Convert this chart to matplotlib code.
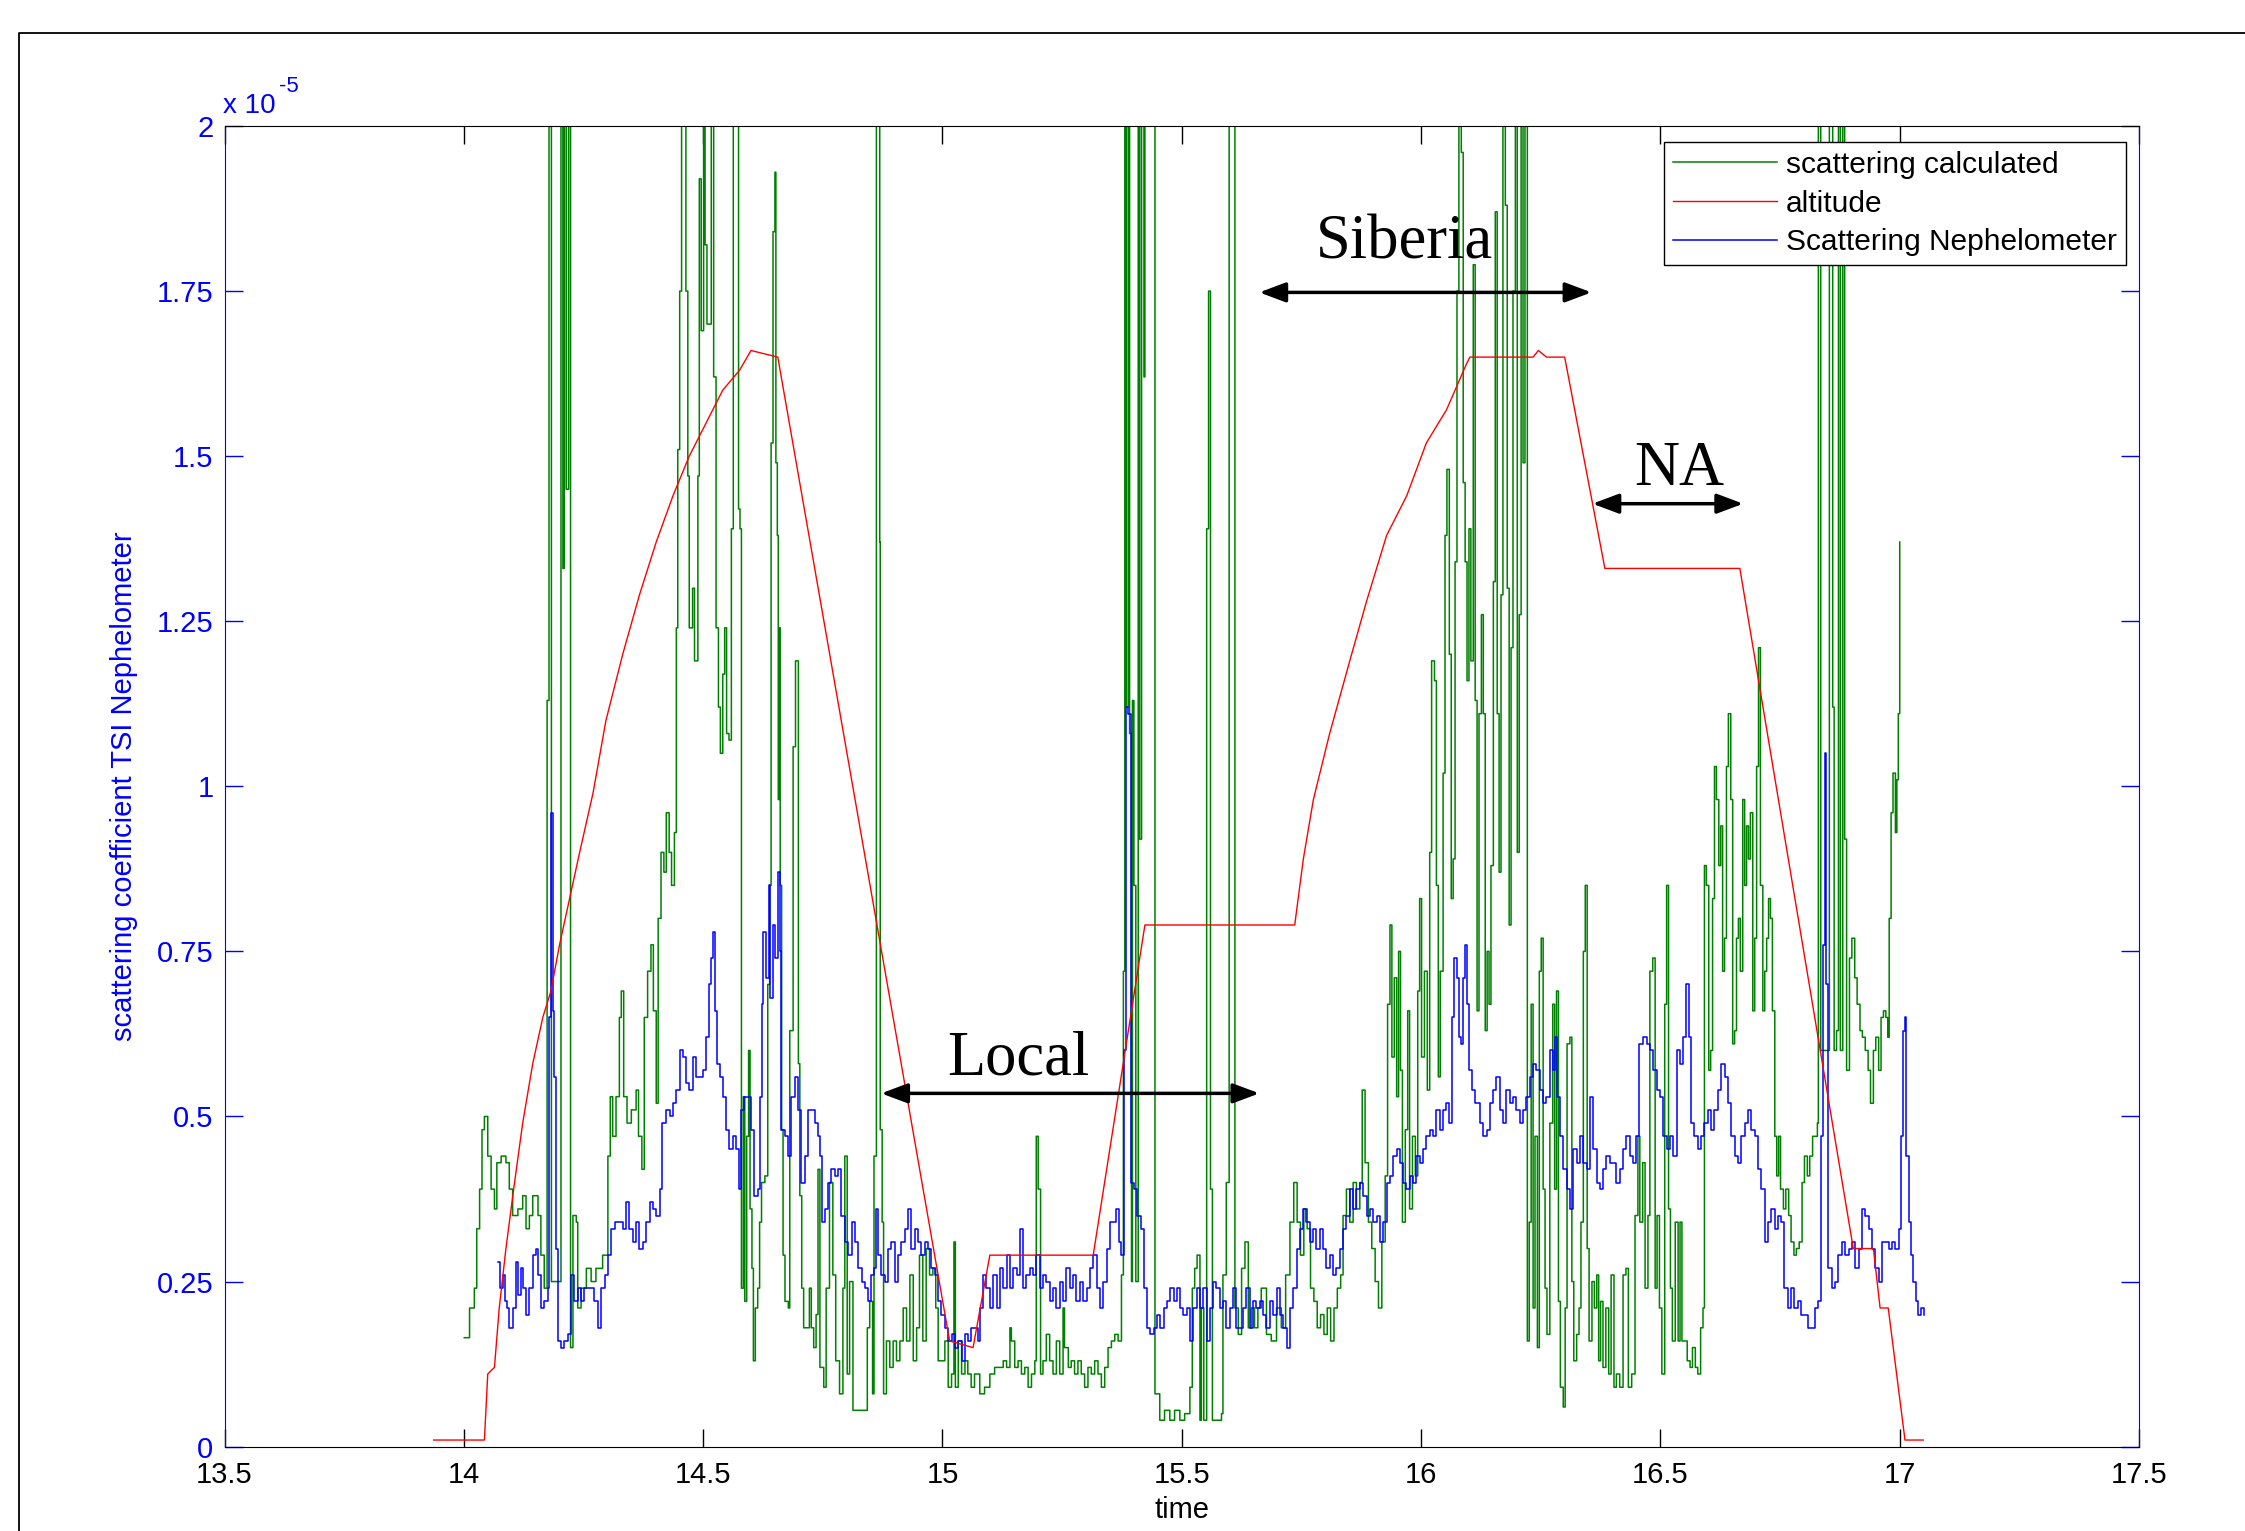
import matplotlib
matplotlib.use('Agg')
import matplotlib.pyplot as plt
from matplotlib.lines import Line2D

# values in units of 1e-5
green_t = [
    14.001, 14.012, 14.022, 14.027, 14.033, 14.038, 14.043, 14.050, 14.057, 14.064,
    14.069, 14.078, 14.088, 14.095, 14.102, 14.113, 14.123, 14.130, 14.137, 14.144,
    14.155, 14.161, 14.168, 14.174, 14.178, 14.183, 14.203, 14.207, 14.210, 14.214,
    14.219, 14.223, 14.228, 14.235, 14.238, 14.245, 14.256, 14.266, 14.276, 14.290,
    14.301, 14.306, 14.311, 14.318, 14.325, 14.329, 14.334, 14.341, 14.350, 14.360,
    14.365, 14.372, 14.377, 14.384, 14.391, 14.396, 14.402, 14.406, 14.412, 14.418,
    14.423, 14.429, 14.434, 14.440, 14.444, 14.447, 14.451, 14.455, 14.464, 14.468,
    14.471, 14.478, 14.482, 14.489, 14.492, 14.496, 14.501, 14.504, 14.508, 14.517,
    14.522, 14.527, 14.532, 14.536, 14.541, 14.545, 14.549, 14.554, 14.559, 14.563,
    14.574, 14.577, 14.580, 14.584, 14.587, 14.591, 14.595, 14.598, 14.602, 14.605,
    14.609, 14.614, 14.618, 14.622, 14.629, 14.635, 14.639, 14.642, 14.646, 14.650,
    14.652, 14.655, 14.657, 14.659, 14.661, 14.664, 14.667, 14.671, 14.678, 14.681,
    14.685, 14.688, 14.693, 14.696, 14.699, 14.702, 14.706, 14.710, 14.717, 14.722,
    14.726, 14.731, 14.736, 14.740, 14.744, 14.752, 14.757, 14.764, 14.771, 14.777,
    14.785, 14.792, 14.796, 14.801, 14.806, 14.813, 14.838, 14.843, 14.848, 14.854,
    14.857, 14.862, 14.869, 14.870, 14.874, 14.877, 14.883, 14.890, 14.897, 14.904,
    14.911, 14.918, 14.925, 14.932, 14.939, 14.946, 14.952, 14.959, 14.966, 14.973,
    14.980, 14.986, 14.991, 15.005, 15.012, 15.019, 15.024, 15.027, 15.033, 15.040,
    15.047, 15.053, 15.060, 15.067, 15.078, 15.088, 15.099, 15.109, 15.127, 15.134,
    15.141, 15.144, 15.151, 15.158, 15.165, 15.172, 15.179, 15.186, 15.193, 15.196,
    15.200, 15.205, 15.210, 15.217, 15.224, 15.231, 15.238, 15.245, 15.252, 15.255,
    15.263, 15.269, 15.276, 15.283, 15.290, 15.297, 15.304, 15.311, 15.318, 15.325,
    15.332, 15.339, 15.346, 15.353, 15.360, 15.367, 15.374, 15.378, 15.381, 15.384,
    15.388, 15.391, 15.395, 15.397, 15.400, 15.404, 15.409, 15.412, 15.416, 15.421,
    15.423, 15.444, 15.454, 15.464, 15.475, 15.485, 15.496, 15.506, 15.517, 15.522,
    15.527, 15.532, 15.538, 15.541, 15.546, 15.552, 15.556, 15.560, 15.564, 15.583,
    15.586, 15.593, 15.599, 15.611, 15.618, 15.625, 15.632, 15.639, 15.645, 15.652,
    15.659, 15.666, 15.677, 15.687, 15.698, 15.708, 15.717, 15.726, 15.734, 15.741,
    15.748, 15.755, 15.762, 15.769, 15.776, 15.783, 15.790, 15.797, 15.804, 15.811,
    15.818, 15.825, 15.832, 15.837, 15.844, 15.851, 15.858, 15.865, 15.872, 15.877,
    15.883, 15.890, 15.897, 15.904, 15.911, 15.918, 15.925, 15.930, 15.935, 15.939,
    15.944, 15.949, 15.953, 15.957, 15.961, 15.967, 15.972, 15.976, 15.982, 15.988,
    15.993, 15.997, 16.001, 16.007, 16.013, 16.018, 16.022, 16.028, 16.032, 16.036,
    16.040, 16.046, 16.050, 16.054, 16.059, 16.063, 16.067, 16.071, 16.075, 16.079,
    16.084, 16.088, 16.092, 16.096, 16.100, 16.104, 16.109, 16.113, 16.117, 16.121,
    16.126, 16.130, 16.134, 16.138, 16.142, 16.146, 16.151, 16.155, 16.159, 16.163,
    16.167, 16.171, 16.176, 16.180, 16.184, 16.188, 16.192, 16.197, 16.201, 16.205,
    16.209, 16.213, 16.217, 16.222, 16.226, 16.230, 16.234, 16.238, 16.243, 16.247,
    16.251, 16.255, 16.259, 16.263, 16.269, 16.275, 16.279, 16.283, 16.287, 16.291,
    16.297, 16.301, 16.305, 16.311, 16.315, 16.319, 16.325, 16.330, 16.334, 16.339,
    16.343, 16.347, 16.351, 16.357, 16.362, 16.367, 16.371, 16.375, 16.380, 16.386,
    16.392, 16.397, 16.403, 16.408, 16.415, 16.422, 16.428, 16.433, 16.440, 16.447,
    16.453, 16.457, 16.463, 16.468, 16.474, 16.478, 16.484, 16.489, 16.493, 16.498,
    16.503, 16.509, 16.513, 16.517, 16.521, 16.525, 16.531, 16.537, 16.541, 16.545,
    16.550, 16.556, 16.562, 16.567, 16.573, 16.578, 16.584, 16.589, 16.592, 16.596,
    16.601, 16.605, 16.609, 16.613, 16.617, 16.622, 16.626, 16.630, 16.634, 16.638,
    16.642, 16.647, 16.651, 16.655, 16.659, 16.663, 16.667, 16.672, 16.676, 16.680,
    16.684, 16.688, 16.693, 16.697, 16.701, 16.705, 16.709, 16.714, 16.718, 16.722,
    16.726, 16.730, 16.734, 16.739, 16.743, 16.747, 16.751, 16.757, 16.762, 16.768,
    16.773, 16.779, 16.784, 16.790, 16.796, 16.801, 16.807, 16.812, 16.818, 16.824,
    16.828, 16.830, 16.835, 16.853, 16.860, 16.863, 16.868, 16.872, 16.876, 16.881,
    16.885, 16.889, 16.895, 16.900, 16.906, 16.911, 16.917, 16.922, 16.928, 16.934,
    16.939, 16.945, 16.950, 16.956, 16.961, 16.966, 16.971, 16.975, 16.978, 16.982,
    16.986, 16.991, 16.994, 16.997, 17.000,
]
green_v = [
    0.165, 0.21, 0.24, 0.33, 0.39, 0.48, 0.50, 0.44, 0.39, 0.36,
    0.43, 0.44, 0.43, 0.39, 0.35, 0.36, 0.38, 0.33, 0.35, 0.38,
    0.35, 0.29, 0.24, 1.13, 2.5, 0.25, 2.5, 1.33, 2.5, 1.45,
    2.5, 0.15, 0.35, 0.34, 0.21, 0.24, 0.27, 0.25, 0.27, 0.29,
    0.44, 0.53, 0.47, 0.53, 0.65, 0.69, 0.53, 0.49, 0.51, 0.54,
    0.47, 0.42, 0.65, 0.72, 0.76, 0.66, 0.52, 0.80, 0.90, 0.87,
    0.96, 0.90, 0.85, 0.93, 1.24, 1.51, 1.75, 2.5, 1.75, 1.47,
    1.24, 1.30, 1.19, 1.47, 1.92, 1.69, 2.5, 1.82, 1.70, 2.5,
    1.62, 1.24, 1.12, 1.05, 1.17, 1.24, 1.08, 1.07, 1.39, 2.5,
    1.42, 1.39, 0.24, 0.53, 0.22, 0.47, 0.60, 0.36, 0.27, 0.13,
    0.21, 0.24, 0.34, 0.40, 0.41, 0.70, 0.85, 1.52, 1.84, 1.93,
    1.49, 1.38, 0.98, 1.24, 0.85, 0.48, 0.29, 0.22, 0.21, 0.63,
    0.63, 1.06, 1.19, 1.19, 0.58, 0.38, 0.24, 0.18, 0.18, 0.24,
    0.18, 0.15, 0.20, 0.42, 0.12, 0.09, 0.24, 0.40, 0.26, 0.13,
    0.08, 0.24, 0.44, 0.11, 0.25, 0.055, 0.055, 0.18, 0.22, 0.08,
    0.44, 2.5, 1.37, 0.48, 0.34, 0.08, 0.16, 0.12, 0.16, 0.13,
    0.16, 0.21, 0.16, 0.26, 0.13, 0.18, 0.29, 0.16, 0.30, 0.26,
    0.27, 0.21, 0.13, 0.16, 0.09, 0.11, 0.31, 0.09, 0.16, 0.11,
    0.13, 0.11, 0.09, 0.11, 0.08, 0.09, 0.11, 0.12, 0.13, 0.12,
    0.18, 0.16, 0.12, 0.13, 0.11, 0.12, 0.09, 0.11, 0.13, 0.47,
    0.39, 0.11, 0.13, 0.17, 0.13, 0.11, 0.16, 0.11, 0.21, 0.15,
    0.12, 0.13, 0.11, 0.13, 0.11, 0.09, 0.12, 0.11, 0.13, 0.11,
    0.09, 0.12, 0.15, 0.16, 0.17, 0.16, 0.26, 0.72, 2.5, 1.12,
    2.5, 1.08, 0.25, 1.13, 0.85, 0.25, 2.5, 0.92, 2.5, 1.62,
    2.5, 0.08, 0.04, 0.055, 0.04, 0.055, 0.04, 0.05, 0.09, 0.24,
    0.27, 0.29, 0.04, 0.21, 0.04, 1.39, 1.75, 0.39, 0.04, 0.05,
    0.26, 0.40, 2.5, 0.21, 0.17, 0.27, 0.31, 0.18, 0.21, 0.18,
    0.21, 0.24, 0.17, 0.16, 0.21, 0.18, 0.26, 0.34, 0.40, 0.34,
    0.29, 0.36, 0.33, 0.24, 0.22, 0.18, 0.20, 0.17, 0.21, 0.16,
    0.21, 0.24, 0.26, 0.35, 0.39, 0.34, 0.40, 0.36, 0.40, 0.54,
    0.43, 0.34, 0.30, 0.25, 0.21, 0.31, 0.41, 0.67, 0.79, 0.59,
    0.71, 0.53, 0.75, 0.57, 0.34, 0.48, 0.66, 0.36, 0.47, 0.41,
    0.69, 0.83, 0.59, 0.72, 0.54, 0.90, 1.19, 1.16, 0.85, 0.56,
    0.72, 1.02, 1.38, 1.48, 1.20, 0.83, 0.89, 1.34, 1.75, 2.5,
    1.96, 1.46, 1.34, 1.16, 1.39, 1.19, 1.79, 1.13, 0.66, 1.11,
    1.26, 1.11, 0.63, 0.75, 0.67, 0.88, 1.31, 1.87, 1.11, 0.87,
    1.29, 2.5, 1.88, 1.30, 0.79, 1.21, 1.75, 2.5, 0.90, 1.26,
    2.5, 1.49, 2.5, 0.16, 0.34, 0.67, 0.21, 0.47, 0.15, 0.72,
    0.77, 0.39, 0.24, 0.17, 0.49, 0.67, 0.39, 0.69, 0.22, 0.09,
    0.06, 0.21, 0.61, 0.62, 0.25, 0.13, 0.17, 0.21, 0.34, 0.75,
    0.85, 0.30, 0.16, 0.25, 0.21, 0.26, 0.13, 0.22, 0.12, 0.21,
    0.11, 0.26, 0.09, 0.11, 0.09, 0.26, 0.27, 0.09, 0.11, 0.35,
    0.47, 0.34, 0.43, 0.24, 0.35, 0.72, 0.74, 0.24, 0.35, 0.21,
    0.11, 0.67, 0.85, 0.36, 0.24, 0.16, 0.34, 0.16, 0.34, 0.16,
    0.16, 0.13, 0.12, 0.15, 0.12, 0.11, 0.18, 0.21, 0.88, 0.85,
    0.57, 0.60, 0.83, 1.03, 0.98, 0.88, 0.94, 0.72, 0.77, 1.03,
    1.11, 0.98, 0.61, 0.63, 0.77, 0.80, 0.72, 0.98, 0.85, 0.94,
    0.89, 0.96, 0.66, 0.77, 1.03, 1.21, 0.85, 0.66, 0.72, 0.77,
    0.83, 0.80, 0.66, 0.47, 0.41, 0.47, 0.39, 0.36, 0.39, 0.35,
    0.31, 0.29, 0.30, 0.31, 0.40, 0.44, 0.41, 0.44, 0.47, 0.47,
    0.49, 2.5, 0.60, 2.5, 1.12, 0.60, 0.63, 2.5, 0.60, 2.5,
    0.92, 0.57, 0.74, 0.77, 0.71, 0.67, 0.63, 0.62, 0.60, 0.57,
    0.52, 0.60, 0.62, 0.57, 0.65, 0.66, 0.65, 0.62, 0.80, 0.96,
    1.02, 0.93, 1.01, 1.11, 1.37,
]

blue_t = [
    14.071, 14.076, 14.081, 14.086, 14.090, 14.095, 14.102, 14.108, 14.113, 14.119,
    14.124, 14.130, 14.137, 14.144, 14.150, 14.155, 14.161, 14.168, 14.175, 14.179,
    14.183, 14.186, 14.189, 14.193, 14.197, 14.203, 14.210, 14.217, 14.224, 14.231,
    14.238, 14.245, 14.252, 14.259, 14.266, 14.273, 14.280, 14.287, 14.294, 14.301,
    14.308, 14.315, 14.325, 14.332, 14.339, 14.346, 14.353, 14.360, 14.367, 14.374,
    14.381, 14.388, 14.395, 14.402, 14.409, 14.414, 14.423, 14.430, 14.437, 14.444,
    14.451, 14.458, 14.464, 14.471, 14.478, 14.485, 14.492, 14.499, 14.506, 14.512,
    14.517, 14.520, 14.524, 14.529, 14.536, 14.542, 14.548, 14.555, 14.562, 14.569,
    14.575, 14.580, 14.586, 14.593, 14.600, 14.607, 14.614, 14.619, 14.623, 14.626,
    14.632, 14.637, 14.640, 14.646, 14.651, 14.656, 14.660, 14.663, 14.670, 14.677,
    14.684, 14.691, 14.698, 14.705, 14.712, 14.719, 14.726, 14.733, 14.740, 14.744,
    14.749, 14.755, 14.761, 14.768, 14.775, 14.782, 14.789, 14.796, 14.803, 14.810,
    14.817, 14.824, 14.831, 14.838, 14.845, 14.851, 14.858, 14.862, 14.866, 14.872,
    14.879, 14.886, 14.893, 14.900, 14.907, 14.914, 14.921, 14.928, 14.935, 14.942,
    14.949, 14.956, 14.963, 14.970, 14.977, 14.984, 14.991, 14.998, 15.005, 15.012,
    15.019, 15.026, 15.033, 15.040, 15.047, 15.053, 15.060, 15.067, 15.074, 15.079,
    15.085, 15.092, 15.099, 15.106, 15.113, 15.120, 15.127, 15.134, 15.141, 15.148,
    15.155, 15.161, 15.168, 15.175, 15.182, 15.189, 15.196, 15.203, 15.210, 15.217,
    15.224, 15.231, 15.238, 15.245, 15.252, 15.259, 15.266, 15.273, 15.280, 15.287,
    15.294, 15.301, 15.308, 15.315, 15.322, 15.329, 15.336, 15.343, 15.350, 15.357,
    15.362, 15.369, 15.374, 15.379, 15.383, 15.388, 15.393, 15.400, 15.407, 15.414,
    15.421, 15.428, 15.434, 15.441, 15.448, 15.455, 15.462, 15.469, 15.476, 15.483,
    15.490, 15.496, 15.503, 15.510, 15.517, 15.524, 15.531, 15.538, 15.545, 15.552,
    15.559, 15.565, 15.572, 15.579, 15.586, 15.593, 15.600, 15.607, 15.614, 15.621,
    15.628, 15.635, 15.642, 15.649, 15.656, 15.663, 15.670, 15.677, 15.684, 15.691,
    15.698, 15.705, 15.712, 15.719, 15.726, 15.733, 15.740, 15.747, 15.754, 15.760,
    15.767, 15.774, 15.781, 15.788, 15.795, 15.802, 15.809, 15.816, 15.823, 15.830,
    15.837, 15.844, 15.851, 15.858, 15.865, 15.872, 15.879, 15.886, 15.893, 15.900,
    15.907, 15.914, 15.921, 15.928, 15.935, 15.942, 15.949, 15.956, 15.962, 15.969,
    15.976, 15.983, 15.990, 15.997, 16.004, 16.011, 16.018, 16.025, 16.032, 16.039,
    16.046, 16.053, 16.059, 16.064, 16.068, 16.074, 16.079, 16.084, 16.088, 16.092,
    16.096, 16.100, 16.106, 16.112, 16.117, 16.123, 16.130, 16.137, 16.144, 16.151,
    16.157, 16.164, 16.171, 16.178, 16.185, 16.192, 16.199, 16.206, 16.213, 16.220,
    16.227, 16.234, 16.241, 16.248, 16.255, 16.262, 16.269, 16.276, 16.279, 16.283,
    16.290, 16.297, 16.304, 16.311, 16.318, 16.325, 16.332, 16.339, 16.346, 16.353,
    16.360, 16.367, 16.373, 16.380, 16.387, 16.394, 16.401, 16.408, 16.415, 16.422,
    16.429, 16.436, 16.443, 16.450, 16.456, 16.464, 16.471, 16.478, 16.485, 16.492,
    16.499, 16.506, 16.513, 16.520, 16.527, 16.534, 16.541, 16.548, 16.553, 16.559,
    16.564, 16.571, 16.578, 16.585, 16.592, 16.599, 16.606, 16.613, 16.620, 16.627,
    16.634, 16.641, 16.648, 16.655, 16.662, 16.669, 16.676, 16.683, 16.690, 16.697,
    16.704, 16.711, 16.718, 16.725, 16.732, 16.739, 16.746, 16.752, 16.759, 16.766,
    16.773, 16.780, 16.787, 16.794, 16.801, 16.808, 16.815, 16.822, 16.829, 16.835,
    16.839, 16.843, 16.847, 16.851, 16.858, 16.865, 16.872, 16.879, 16.886, 16.893,
    16.900, 16.907, 16.914, 16.921, 16.928, 16.935, 16.942, 16.949, 16.956, 16.963,
    16.970, 16.977, 16.984, 16.991, 16.998, 17.002, 17.006, 17.010, 17.014, 17.019,
    17.023, 17.028, 17.034, 17.039, 17.045, 17.051,
]
blue_v = [
    0.28, 0.24, 0.26, 0.22, 0.21, 0.18, 0.21, 0.28, 0.23, 0.27,
    0.24, 0.20, 0.24, 0.29, 0.30, 0.26, 0.21, 0.22, 0.24, 0.65,
    0.96, 0.66, 0.56, 0.30, 0.16, 0.15, 0.16, 0.17, 0.26, 0.22,
    0.24, 0.22, 0.24, 0.24, 0.24, 0.22, 0.18, 0.24, 0.26, 0.29,
    0.33, 0.34, 0.34, 0.33, 0.37, 0.33, 0.31, 0.34, 0.30, 0.31,
    0.34, 0.37, 0.36, 0.35, 0.39, 0.49, 0.51, 0.50, 0.52, 0.54,
    0.60, 0.59, 0.55, 0.54, 0.59, 0.56, 0.56, 0.57, 0.62, 0.70,
    0.74, 0.78, 0.66, 0.58, 0.56, 0.53, 0.48, 0.45, 0.47, 0.45,
    0.39, 0.51, 0.53, 0.53, 0.48, 0.38, 0.39, 0.53, 0.67, 0.78,
    0.71, 0.85, 0.68, 0.79, 0.74, 0.87, 0.75, 0.48, 0.47, 0.44,
    0.53, 0.56, 0.51, 0.40, 0.44, 0.51, 0.51, 0.49, 0.47, 0.44,
    0.34, 0.36, 0.40, 0.42, 0.41, 0.42, 0.35, 0.31, 0.29, 0.34,
    0.31, 0.27, 0.25, 0.24, 0.22, 0.26, 0.27, 0.36, 0.29, 0.26,
    0.25, 0.30, 0.31, 0.25, 0.29, 0.31, 0.33, 0.36, 0.30, 0.33,
    0.31, 0.29, 0.31, 0.30, 0.27, 0.26, 0.22, 0.20, 0.18, 0.16,
    0.17, 0.15, 0.16, 0.13, 0.17, 0.16, 0.18, 0.18, 0.16, 0.21,
    0.26, 0.24, 0.21, 0.26, 0.21, 0.27, 0.24, 0.29, 0.24, 0.27,
    0.26, 0.33, 0.24, 0.26, 0.27, 0.26, 0.29, 0.24, 0.26, 0.25,
    0.22, 0.24, 0.21, 0.25, 0.22, 0.27, 0.24, 0.26, 0.22, 0.25,
    0.22, 0.24, 0.27, 0.29, 0.24, 0.21, 0.25, 0.30, 0.34, 0.34,
    0.36, 0.31, 0.29, 0.60, 1.12, 1.11, 0.40, 0.39, 0.35, 0.33,
    0.24, 0.18, 0.17, 0.18, 0.20, 0.18, 0.21, 0.22, 0.24, 0.22,
    0.24, 0.21, 0.20, 0.21, 0.16, 0.21, 0.24, 0.21, 0.24, 0.16,
    0.21, 0.25, 0.24, 0.21, 0.22, 0.18, 0.21, 0.24, 0.18, 0.18,
    0.21, 0.24, 0.18, 0.22, 0.21, 0.22, 0.20, 0.18, 0.22, 0.20,
    0.24, 0.20, 0.18, 0.15, 0.21, 0.24, 0.30, 0.33, 0.36, 0.34,
    0.31, 0.33, 0.30, 0.33, 0.30, 0.27, 0.29, 0.26, 0.27, 0.30,
    0.33, 0.35, 0.39, 0.36, 0.39, 0.40, 0.38, 0.35, 0.36, 0.34,
    0.35, 0.31, 0.34, 0.40, 0.41, 0.44, 0.45, 0.43, 0.40, 0.39,
    0.41, 0.40, 0.44, 0.43, 0.45, 0.47, 0.48, 0.47, 0.51, 0.48,
    0.51, 0.52, 0.49, 0.65, 0.74, 0.71, 0.62, 0.61, 0.71, 0.76,
    0.67, 0.57, 0.54, 0.52, 0.52, 0.49, 0.47, 0.48, 0.52, 0.54,
    0.56, 0.51, 0.49, 0.54, 0.52, 0.53, 0.51, 0.49, 0.51, 0.53,
    0.56, 0.58, 0.57, 0.54, 0.52, 0.53, 0.60, 0.57, 0.62, 0.53,
    0.47, 0.42, 0.39, 0.36, 0.45, 0.43, 0.47, 0.43, 0.42, 0.53,
    0.45, 0.40, 0.39, 0.42, 0.44, 0.43, 0.43, 0.40, 0.42, 0.45,
    0.47, 0.44, 0.43, 0.47, 0.61, 0.62, 0.61, 0.60, 0.57, 0.54,
    0.53, 0.47, 0.45, 0.47, 0.44, 0.60, 0.58, 0.62, 0.70, 0.62,
    0.49, 0.47, 0.45, 0.47, 0.49, 0.51, 0.48, 0.51, 0.54, 0.58,
    0.56, 0.52, 0.47, 0.44, 0.43, 0.47, 0.49, 0.51, 0.48, 0.47,
    0.42, 0.39, 0.31, 0.34, 0.36, 0.33, 0.35, 0.34, 0.24, 0.21,
    0.24, 0.21, 0.22, 0.20, 0.20, 0.18, 0.18, 0.21, 0.22, 0.47,
    0.76, 1.05, 0.70, 0.27, 0.24, 0.25, 0.29, 0.31, 0.29, 0.30,
    0.31, 0.27, 0.30, 0.36, 0.35, 0.33, 0.30, 0.27, 0.25, 0.31,
    0.31, 0.30, 0.31, 0.30, 0.33, 0.47, 0.63, 0.65, 0.44, 0.34,
    0.29, 0.25, 0.22, 0.20, 0.21, 0.20,
]

alt_t = [
    13.937, 14.043, 14.050, 14.064, 14.074, 14.088, 14.106, 14.123, 14.144, 14.165,
    14.182, 14.200, 14.221, 14.242, 14.270, 14.297, 14.332, 14.367, 14.402, 14.437,
    14.471, 14.506, 14.541, 14.576, 14.600, 14.656, 15.015, 15.064, 15.099, 15.315,
    15.423, 15.736, 15.754, 15.775, 15.809, 15.851, 15.886, 15.928, 15.970, 16.011,
    16.053, 16.095, 16.102, 16.234, 16.245, 16.262, 16.300, 16.384, 16.666, 16.903,
    16.945, 16.959, 16.976, 17.011, 17.049,
]
alt_v = [
    0.01, 0.01, 0.11, 0.12, 0.21, 0.30, 0.40, 0.49, 0.58, 0.65,
    0.69, 0.76, 0.83, 0.90, 0.99, 1.10, 1.20, 1.29, 1.37, 1.44,
    1.50, 1.55, 1.60, 1.63, 1.66, 1.65, 0.16, 0.15, 0.29, 0.29,
    0.79, 0.79, 0.89, 0.98, 1.08, 1.19, 1.28, 1.38, 1.44, 1.52,
    1.57, 1.64, 1.65, 1.65, 1.66, 1.65, 1.65, 1.33, 1.33, 0.30,
    0.30, 0.21, 0.21, 0.01, 0.01,
]

x_ticks = [13.5, 14, 14.5, 15, 15.5, 16, 16.5, 17, 17.5]
x_labels = ['13.5', '14', '14.5', '15', '15.5', '16', '16.5', '17', '17.5']
y_ticks = [0, 0.25, 0.5, 0.75, 1, 1.25, 1.5, 1.75, 2]
y_labels = ['0', '0.25', '0.5', '0.75', '1', '1.25', '1.5', '1.75', '2']

plt.rcParams['font.family'] = 'Liberation Sans'

fig = plt.figure(figsize=(22.45, 15.31), dpi=100)
ax = fig.add_axes([0.1000, 0.0551, 0.8528, 0.8626])

g, = ax.plot(green_t, green_v, color='#008000', lw=1.1, drawstyle='steps-post')
b, = ax.plot(blue_t, blue_v, color='#0000ff', lw=1.1, drawstyle='steps-post')
r, = ax.plot(alt_t, alt_v, color='#ff0000', lw=1.0)

ax.set_xlim(13.5, 17.5)
ax.set_ylim(0, 2)
ax.set_xticks(x_ticks)
ax.set_xticklabels(x_labels)
ax.set_yticks(y_ticks)
ax.set_yticklabels(y_labels)
ax.tick_params(axis='both', direction='in', length=13, width=1, top=True, right=True,
               labelsize=21)
ax.tick_params(axis='x', pad=10)
ax.tick_params(axis='y', colors='blue', pad=8)
ax.spines['left'].set_color('blue')
ax.spines['right'].set_color('blue')

ax.set_xlabel('time', fontsize=21)
ax.xaxis.set_label_coords(0.5, -0.037)
ax.xaxis.label.set_va('top')
ax.set_ylabel('scattering coefficient TSI Nephelometer', fontsize=21, color='blue')
ax.yaxis.set_label_coords(-0.045, 0.5)

# exponent label, drawn by hand like the original
ax.text(-0.001, 1.0098, 'x 10', transform=ax.transAxes, color='blue',
        fontsize=20, ha='left', va='baseline')
ax.text(0.0285, 1.0255, '-5', transform=ax.transAxes, color='blue',
        fontsize=16, ha='left', va='baseline')

leg = ax.legend([g, r, b], ['scattering calculated', 'altitude', 'Scattering Nephelometer'],
                loc='upper right', bbox_to_anchor=(0.9932, 0.9879), borderaxespad=0,
                fancybox=False, edgecolor='black', framealpha=1, fontsize=21.5,
                handlelength=3.5, handletextpad=0.3, labelspacing=0.36, borderpad=0.3)
leg.get_frame().set_linewidth(1.0)

# region annotations
arrow = dict(arrowstyle='<|-|>,head_length=0.8,head_width=0.3', lw=2.5, color='black',
             mutation_scale=20, shrinkA=0, shrinkB=0)
ax.annotate('', xy=(14.872, 0.535), xytext=(15.662, 0.535), arrowprops=arrow)
ax.annotate('', xy=(15.662, 1.748), xytext=(16.356, 1.748), arrowprops=arrow)
ax.annotate('', xy=(16.358, 1.428), xytext=(16.673, 1.428), arrowprops=arrow)
ax.text(15.158, 0.563, 'Local', family='Liberation Serif', fontsize=45, ha='center', va='baseline')
ax.text(15.966, 1.80, 'Siberia', family='Liberation Serif', fontsize=45, ha='center', va='baseline')
ax.text(16.539, 1.456, 'NA', family='Liberation Serif', fontsize=45, ha='center', va='baseline')

# outer frame
fig.add_artist(Line2D([19 / 2245, 19 / 2245, 1], [0, 1 - 33 / 1531, 1 - 33 / 1531],
                      transform=fig.transFigure, color='black', lw=1.3))

fig.savefig('out.png', dpi=100)
